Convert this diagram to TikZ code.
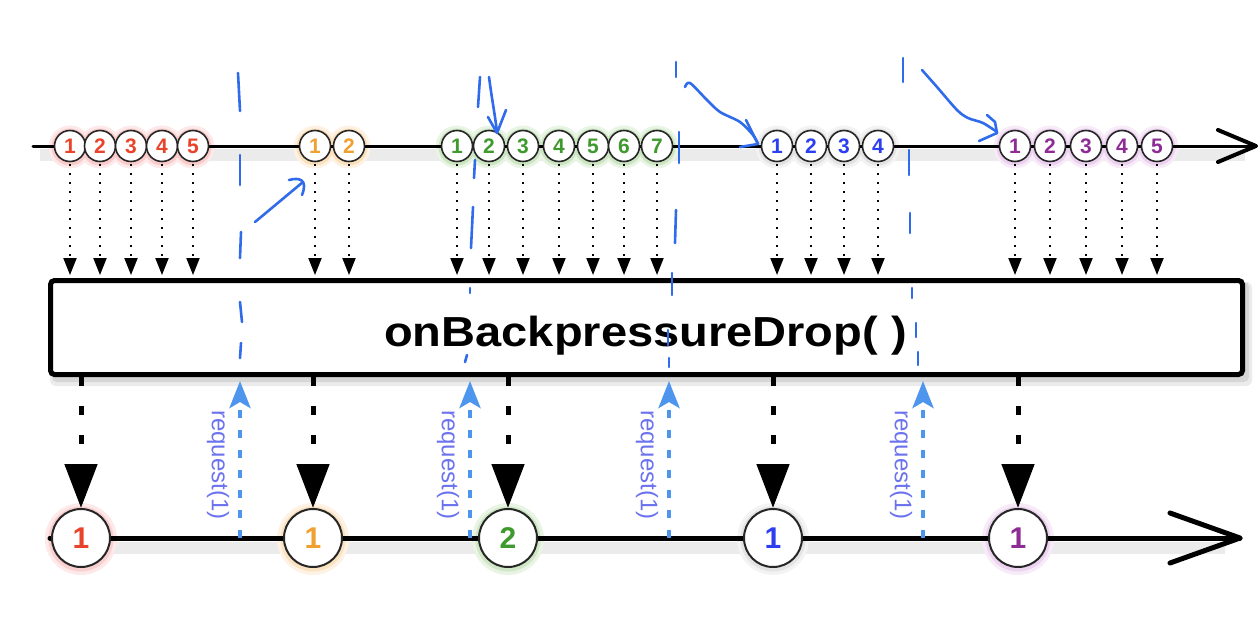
\documentclass[tikz,border=0pt]{standalone}
\usepackage{fontspec}
\setmainfont{Liberation Sans}
\usetikzlibrary{arrows.meta}
\definecolor{cr}{HTML}{E8432B}
\definecolor{co}{HTML}{F0A030}
\definecolor{cg}{HTML}{3F9A2E}
\definecolor{cb}{HTML}{2B3FF0}
\definecolor{cp}{HTML}{8E2C95}
\definecolor{gr}{HTML}{F6A8A8}
\definecolor{go}{HTML}{F8CC90}
\definecolor{gg}{HTML}{A8D498}
\definecolor{gb}{HTML}{CFCFCF}
\definecolor{gp}{HTML}{DDB0E4}
\definecolor{reqc}{HTML}{4E95EE}
\definecolor{reqt}{HTML}{6B72EE}
\definecolor{handc}{HTML}{2F6BEB}
\begin{document}
\begin{tikzpicture}[x=1pt,y=-1pt,
  sm/.style={circle,draw=black!85,line width=1.6pt,fill=white,minimum size=31pt,inner sep=0pt,font=\bfseries\fontsize{21}{21}\selectfont},
  bg/.style={circle,draw=black!85,line width=2pt,fill=white,minimum size=58pt,inner sep=0pt,font=\bfseries\fontsize{30}{30}\selectfont},
  dotarrow/.style={black,line width=2pt,dash pattern=on 2pt off 7pt,shorten <=2pt,shorten >=3pt,-{Triangle[width=13pt,length=17pt]}},
  outarrow/.style={black,line width=5pt,dash pattern=on 9pt off 20pt,-{Triangle[width=32pt,length=44pt]}},
  reqarrow/.style={reqc,line width=4.5pt,dash pattern=on 8pt off 12pt,shorten >=4pt,-{Stealth[width=21pt,length=27pt,inset=6pt]}},
  rlabel/.style={text=reqt,rotate=-90,font=\fontsize{24}{24}\selectfont,inner sep=0pt},
  hand/.style={handc,line width=2.6pt,line cap=round,line join=round},
  tl/.style={black,line join=round,line cap=round}
]
\useasboundingbox (0,0) rectangle (1260,621);
\def\toplist{70/1/cr/gr,100/2/cr/gr,131/3/cr/gr,162/4/cr/gr,193/5/cr/gr,315/1/co/go,349/2/co/go,457/1/cg/gg,489/2/cg/gg,523/3/cg/gg,559/4/cg/gg,593/5/cg/gg,624/6/cg/gg,657/7/cg/gg,777/1/cb/gb,811/2/cb/gb,844/3/cb/gb,878/4/cb/gb,1015/1/cp/gp,1050/2/cp/gp,1086/3/cp/gp,1122/4/cp/gp,1157/5/cp/gp}
\def\botlist{81/1/cr/gr,313/1/co/go,508/2/cg/gg,773/1/cb/gb,1018/1/cp/gp}
% shadows
\draw[black!8,line width=12pt] (40,155) -- (1245,155);
\draw[black!8,line width=12pt] (55,548) -- (1225,548);
\fill[black!8,rounded corners=6pt] (50,282) rectangle (1252,386);
\fill[black!16,rounded corners=5pt] (52,282) rectangle (1249,382);
% glows
\foreach \x/\n/\c/\g in \toplist { \fill[\g!25!white] (\x,147) circle (21.5); }
\foreach \x/\n/\c/\g in \toplist { \fill[\g!60!white] (\x,147) circle (18.5); }
\foreach \x/\n/\c/\g in \botlist { \fill[\g!25!white] (\x,539) circle (36); }
\foreach \x/\n/\c/\g in \botlist { \fill[\g!55!white] (\x,539) circle (32.5); }
% timelines
\coordinate (ts) at (33,146);
\coordinate (te) at (1256,146);
\draw[tl,line width=3pt] (ts) -- (te);
\draw[tl,line width=4pt] (1218,130) -- (te) -- (1218,162);
\coordinate (bs) at (50,538);
\coordinate (be) at (1240,538);
\draw[tl,line width=5pt] (bs) -- (be);
\draw[tl,line width=5pt] (1170,513) -- (be) -- (1170,563);
% operator box
\node[draw=black,line width=5pt,rounded corners=4pt,fill=white,minimum width=1192pt,minimum height=94pt,inner sep=0pt] (op) at (646.5,327.5) {};
\node[font=\bfseries\fontsize{42}{42}\selectfont,xscale=1.12,anchor=base,inner sep=0pt] (title) at (645.5,346) {onBackpressureDrop( )};
% top marbles
\foreach \x/\n/\c/\g [count=\i] in \toplist { \node[sm,text=\c] (t\i) at (\x,146) {\n}; }
\foreach \i in {1,...,23} { \draw[dotarrow] (t\i.south) -- (t\i.south |- op.north); }
% request arrows
\foreach \x [count=\i] in {240,470,669,923} {
  \coordinate (q\i) at (\x,538);
  \draw[reqarrow] (q\i) -- (q\i |- op.south);
  \node[rlabel] (r\i) at (\x-22,465) {request(1)};
}
% bottom marbles
\foreach \x/\n/\c/\g [count=\i] in \botlist {
  \node[bg,text=\c] (b\i) at (\x,538) {\n};
  \draw[outarrow] (b\i |- op.south) -- (b\i.north);
}
% hand-drawn annotations
\draw[hand] (238,73) -- (240,111);
\draw[hand] (240,155) -- (240,185);
\draw[hand] (241,232) -- (240,258);
\draw[hand] (240,302) -- (242,322);
\draw[hand] (241,343) -- (240,358);
\draw[hand] (255,222) -- (303,182);
\draw[hand] (289,180) .. controls (300,177) and (308,180) .. (302,195);
\draw[hand] (480,77) -- (478,107);
\draw[hand] (475,160) -- (474,178);
\draw[hand] (473,207) -- (471,248);
\draw[hand] (470,288) -- (470,293);
\draw[hand] (467,355) -- (465,362);
\draw[hand] (489,77) .. controls (492,100) and (495,115) .. (497,132);
\draw[hand] (488,117) -- (497,133) -- (506,110);
\draw[hand] (676,62) -- (676,77);
\draw[hand] (679,132) -- (679,163);
\draw[hand] (676,210) -- (675,243);
\draw[hand] (672,273) -- (672,295);
\draw[hand] (668,330) -- (668,345);
\draw[hand] (669,358) -- (669,367);
\draw[hand] plot[smooth] coordinates {(685,87) (690,83) (707,100) (720,112) (740,122) (753,135) (758,144)};
\draw[hand] (746,120) -- (758,144) -- (740,147);
\draw[hand] (903,58) -- (903,82);
\draw[hand] (909,150) -- (909,175);
\draw[hand] (910,213) -- (910,233);
\draw[hand] (912,288) -- (912,298);
\draw[hand] (916,323) -- (916,337);
\draw[hand] (918,352) -- (918,365);
\draw[hand] plot[smooth] coordinates {(922,70) (937,87) (957,110) (968,118) (983,123) (997,132)};
\draw[hand] (987,115) -- (995,122) -- (997,133) -- (979,141);
\end{tikzpicture}
\end{document}
